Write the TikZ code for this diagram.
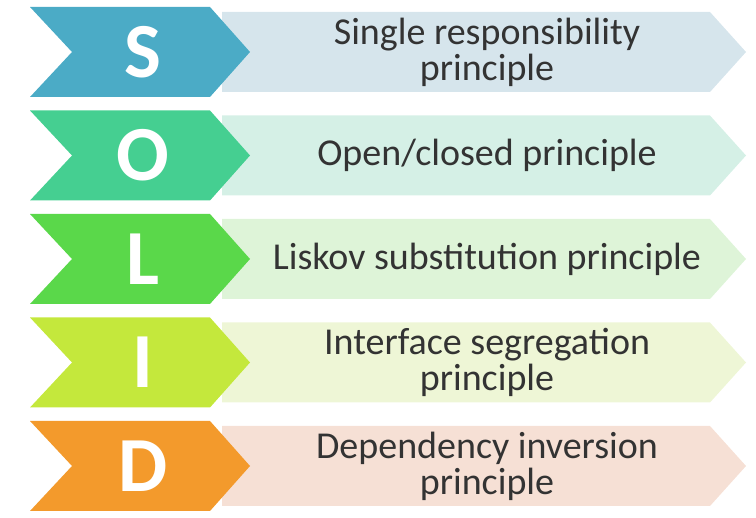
\documentclass[tikz,border=0pt]{standalone}
\usepackage{fontspec}
\setmainfont{Carlito}
\usetikzlibrary{positioning}

\definecolor{sdark}{HTML}{4BABC6}\definecolor{slight}{HTML}{D6E5EC}
\definecolor{odark}{HTML}{45CF91}\definecolor{olight}{HTML}{D5F0E6}
\definecolor{ldark}{HTML}{5AD84A}\definecolor{llight}{HTML}{DEF4D8}
\definecolor{idark}{HTML}{C4E83C}\definecolor{ilight}{HTML}{EEF6D6}
\definecolor{ddark}{HTML}{F39A2C}\definecolor{dlight}{HTML}{F6E0D5}
\definecolor{textgray}{HTML}{333333}

\tikzset{
  letter/.style={text=white, font=\bfseries\fontsize{78}{78}\selectfont},
  principle/.style={text=textgray, align=center, font=\fontsize{38}{36}\selectfont}
}

\begin{document}
\begin{tikzpicture}[x=1pt, y=-1pt]
\useasboundingbox (0,0) rectangle (756,518);

\foreach \col/\l/\t [count=\i] in {s/S/{Single responsibility\\principle},
    o/O/{Open/closed principle},
    l/L/{Liskov substitution principle},
    i/I/{Interface segregation\\principle},
    d/D/{Dependency inversion\\principle}}
{
  \pgfmathsetmacro{\yc}{52+(\i-1)*103.5}
  % light arrow with the name
  \fill [\col light] (222,\yc-40) -- (710,\yc-40) -- (746,\yc) -- (710,\yc+40)
    -- (222,\yc+40) -- cycle;
  % coloured chevron with the letter
  \fill [\col dark] (30,\yc-45) -- (210,\yc-45) -- (250,\yc) -- (210,\yc+45)
    -- (30,\yc+45) -- (72,\yc) -- cycle;
  \node [letter] (letter-\i) at (143,\yc) {\l};
  \node [principle] (label-\i) at (487,\yc) {\t};
}

\end{tikzpicture}
\end{document}
